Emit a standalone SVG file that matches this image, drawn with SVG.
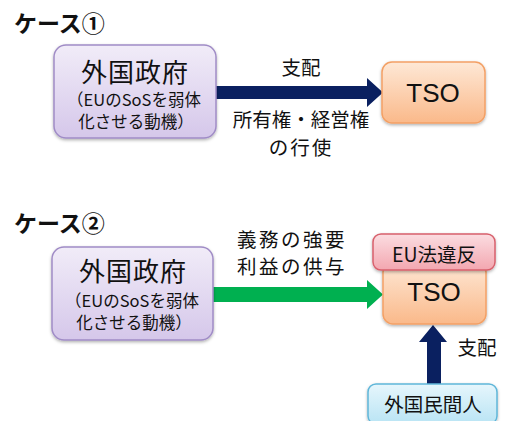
<svg xmlns="http://www.w3.org/2000/svg" width="506" height="421" viewBox="0 0 506 421">
<defs>
<linearGradient id="gP" x1="0" y1="0" x2="0" y2="1"><stop offset="0" stop-color="#f1ecf8"/><stop offset="1" stop-color="#d5c7ea"/></linearGradient>
<linearGradient id="gO" x1="0" y1="0" x2="0" y2="1"><stop offset="0" stop-color="#fee8d6"/><stop offset="1" stop-color="#fab98a"/></linearGradient>
<linearGradient id="gR" x1="0" y1="0" x2="0" y2="1"><stop offset="0" stop-color="#fbdde1"/><stop offset="1" stop-color="#f3a7b0"/></linearGradient>
<linearGradient id="gB" x1="0" y1="0" x2="0" y2="1"><stop offset="0" stop-color="#e6f6fc"/><stop offset="1" stop-color="#b9e4f4"/></linearGradient>
<filter id="sh" x="-10%" y="-10%" width="120%" height="130%"><feDropShadow dx="0" dy="1.5" stdDeviation="1.5" flood-color="#000" flood-opacity="0.3"/></filter>
</defs>
<style>
text{font-family:"Noto Sans CJK JP","Noto Sans",sans-serif;fill:#111;}
.title{font-size:23px;font-weight:bold;}
.big{font-size:26px;text-anchor:middle;}
.small{font-size:16.5px;text-anchor:middle;}
.lbl{font-size:19.5px;text-anchor:middle;}
.tso{font-family:"Liberation Sans","Noto Sans",sans-serif;font-size:26px;text-anchor:middle;}
.purple{fill:url(#gP);stroke:#a08cc6;stroke-width:1.5;filter:url(#sh);}
.orange{fill:url(#gO);stroke:#f3a065;stroke-width:1.5;filter:url(#sh);}
.pink{fill:url(#gR);stroke:#d8606c;stroke-width:1.5;filter:url(#sh);}
.blue{fill:url(#gB);stroke:#5fb6d9;stroke-width:1.5;filter:url(#sh);}
</style>
<rect width="506" height="421" fill="#fff"/>

<text class="title" x="14" y="32">ケース①</text>
<text class="title" x="14" y="232">ケース②</text>

<g id="connectors">
<polygon points="216,86 367,86 367,78 383,92.5 367,107 367,99 216,99" fill="#0a2060"/>
<polygon points="213,287 367,287 367,280 383,294.5 367,309 367,302 213,302" fill="#00b050"/>
<polygon points="427,385 427,342 419,342 433,325 447,342 441,342 441,385" fill="#0a2060"/>
</g>

<g id="labels">
<text class="lbl" x="301" y="75">支配</text>
<text class="lbl" x="301" y="127" font-size="21">所有権・経営権</text>
<text class="lbl" x="301" y="155" letter-spacing="2">の行使</text>
<text class="lbl" x="292" y="247" letter-spacing="2.5">義務の強要</text>
<text class="lbl" x="292" y="274" letter-spacing="2.5">利益の供与</text>
<text class="lbl" x="477" y="355">支配</text>
</g>

<g id="gov1">
<rect class="purple" x="54" y="45" width="162" height="93" rx="12"/>
<text class="big" x="135" y="82" letter-spacing="1">外国政府</text>
<text class="small" x="134" y="106">（EUのSoSを弱体</text>
<text class="small" x="136" y="128">化させる動機）</text>
</g>

<g id="tso1">
<rect class="orange" x="382" y="62" width="103" height="61" rx="10"/>
<text class="tso" x="433" y="102">TSO</text>
</g>

<g id="gov2">
<rect class="purple" x="52" y="247" width="161" height="93" rx="12"/>
<text class="big" x="133" y="281" letter-spacing="1">外国政府</text>
<text class="small" x="132" y="307">（EUのSoSを弱体</text>
<text class="small" x="134" y="329">化させる動機）</text>
</g>

<g id="tso2">
<rect class="orange" x="383" y="262" width="103" height="62" rx="10"/>
<text class="tso" x="434" y="301">TSO</text>
</g>

<g id="eu">
<rect class="pink" x="373" y="234" width="122" height="36" rx="8"/>
<text class="lbl" x="434" y="262" font-size="19">EU法違反</text>
</g>

<g id="private">
<rect class="blue" x="368" y="384" width="129" height="40" rx="8"/>
<text class="lbl" x="433" y="412" font-size="19">外国民間人</text>
</g>
</svg>
